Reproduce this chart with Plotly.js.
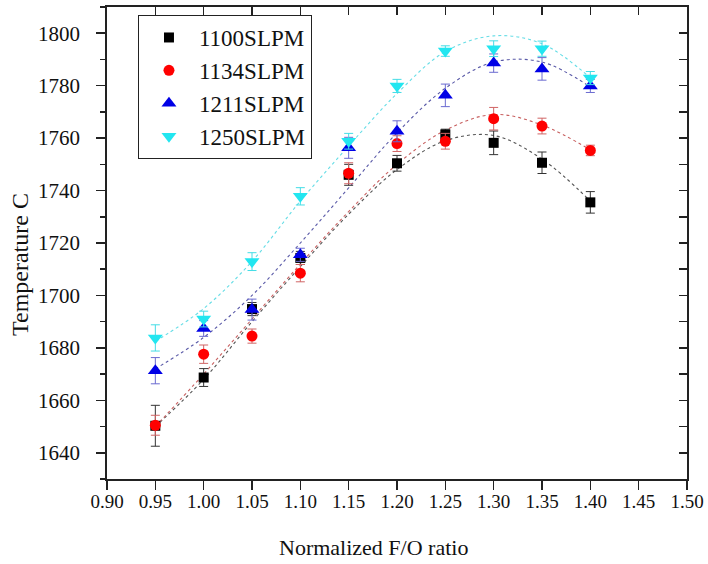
<!DOCTYPE html>
<html>
<head>
<meta charset="utf-8">
<script src="https://cdn.plot.ly/plotly-3.0.1.min.js"></script>
<style>
  html, body { margin: 0; padding: 0; background: #fff; }
  #chart { width: 708px; height: 564px; }
</style>
</head>
<body>
<div id="chart"></div>
<script>
// Normalized fuel/oxidizer ratio
const ratio = [0.95, 1.00, 1.05, 1.10, 1.15, 1.20, 1.25, 1.30, 1.35, 1.40];

// Measured temperature (C) per flow rate
const t1100 = [1650.3, 1668.7, 1694.8, 1714.3, 1746.0, 1750.4, 1761.4, 1758.2, 1750.6, 1735.5];
const t1134 = [1650.5, 1677.6, 1684.5, 1708.5, 1746.6, 1757.9, 1758.8, 1767.4, 1764.6, 1755.3];
const t1211 = [1671.3, 1687.4, 1694.6, 1715.5, 1756.3, 1762.6, 1776.3, 1788.6, 1786.4, 1779.9];
const t1250 = [1683.8, 1691.0, 1712.9, 1737.8, 1758.8, 1779.9, 1793.2, 1794.1, 1794.1, 1782.9];

// Error bar half-widths (C)
const e1100 = [7.8, 3.4, 2.5, 2.5, 4.0, 3.0, 2.0, 4.5, 4.1, 4.1];
const e1134 = [3.8, 3.5, 2.7, 3.3, 4.0, 3.0, 3.0, 4.3, 3.0, 2.0];
const e1211 = [5.0, 3.0, 4.0, 2.5, 4.0, 4.0, 4.3, 3.5, 4.3, 2.5];
const e1250 = [5.0, 3.0, 3.4, 3.3, 3.0, 2.5, 2.0, 3.0, 2.9, 2.5];

// Trend curves (C) at each ratio
const f1100 = [1650, 1668, 1690, 1711, 1731, 1748, 1759, 1761, 1752, 1736];
const f1134 = [1650, 1670, 1691, 1712, 1732, 1750, 1763, 1769, 1765, 1755.5];
const f1211 = [1672, 1684, 1700, 1720, 1741, 1762, 1779, 1789, 1789, 1779.5];
const f1250 = [1682.5, 1695, 1713, 1736, 1757, 1777, 1793, 1799, 1796, 1783];

const seriesNames = ['1100SLPM', '1134SLPM', '1211SLPM', '1250SLPM'];

const serif = '"Liberation Serif", "Times New Roman", Times, serif';

function fit(y, color) {
  return {
    x: ratio, y: y, mode: 'lines', type: 'scatter', showlegend: false,
    hoverinfo: 'skip',
    line: { color: color, width: 1.1, dash: '3px,3px', shape: 'spline', smoothing: 1 }
  };
}

function pts(name, y, err, symbol, size, color, errColor) {
  return {
    x: ratio, y: y, name: name, mode: 'markers', type: 'scatter',
    marker: { symbol: symbol, size: size, color: color, line: { width: 0 } },
    error_y: { type: 'data', array: err, visible: true, color: errColor, thickness: 1, width: 4.5 }
  };
}

const data = [
  fit(f1100, '#555555'),
  fit(f1134, '#c86060'),
  fit(f1211, '#5a5aa8'),
  fit(f1250, '#66dde6'),
  pts(seriesNames[0], t1100, e1100, 'square', 10, '#000000', '#333333'),
  pts(seriesNames[1], t1134, e1134, 'circle', 11, '#ff0000', '#d06464'),
  pts(seriesNames[2], t1211, e1211, 'triangle-up', 13, '#0000e6', '#6a6ad0'),
  pts(seriesNames[3], t1250, e1250, 'triangle-down', 13, '#22e6f0', '#44dde6'),
  // carrier trace for the mirrored top/right frame axes
  { x: [], y: [], xaxis: 'x2', yaxis: 'y2', type: 'scatter', mode: 'markers', showlegend: false }
];

const layout = {
  width: 708, height: 564,
  margin: { l: 107, r: 21, t: 7, b: 85 },
  paper_bgcolor: '#ffffff', plot_bgcolor: '#ffffff',
  font: { family: serif, color: '#111111', size: 18 },
  showlegend: true,
  legend: {
    x: 0.0534, y: 0.983, xanchor: 'left', yanchor: 'top',
    bgcolor: '#ffffff', bordercolor: '#222222', borderwidth: 1,
    font: { family: serif, size: 23, color: '#111111' },
    itemwidth: 50, tracegroupgap: 0
  },
  xaxis: {
    range: [0.9, 1.5], tick0: 0.9, dtick: 0.05, tickformat: '.2f',
    showgrid: false, zeroline: false,
    showline: true, linecolor: '#222222', linewidth: 1.8,
    ticks: 'outside', ticklen: 9, tickwidth: 1.5, tickcolor: '#222222',
    ticklabelstandoff: -5,
    tickfont: { family: serif, size: 19, color: '#111111' }
  },
  yaxis: {
    range: [1630, 1810], tick0: 1640, dtick: 20,
    showgrid: false, zeroline: false,
    showline: true, linecolor: '#222222', linewidth: 1.8,
    ticks: 'outside', ticklen: 9, tickwidth: 1.5, tickcolor: '#222222',
    ticklabelstandoff: 12,
    minor: { dtick: 10, ticks: 'outside', ticklen: 5, tickwidth: 1.5, tickcolor: '#222222', showgrid: false },
    tickfont: { family: serif, size: 21, color: '#111111' }
  },
  xaxis2: {
    overlaying: 'x', side: 'top', anchor: 'y2',
    range: [0.9, 1.5], tick0: 0.9, dtick: 0.05,
    showgrid: false, zeroline: false, showticklabels: false,
    showline: true, linecolor: '#222222', linewidth: 1.8,
    ticks: 'inside', ticklen: 8, tickwidth: 1.5, tickcolor: '#222222'
  },
  yaxis2: {
    overlaying: 'y', side: 'right', anchor: 'x2',
    range: [1630, 1810], tick0: 1640, dtick: 10,
    showgrid: false, zeroline: false, showticklabels: false,
    showline: true, linecolor: '#222222', linewidth: 1.8,
    ticks: 'inside', ticklen: 8, tickwidth: 1.5, tickcolor: '#222222'
  },
  annotations: [
    {
      text: 'Normalized F/O ratio', xref: 'paper', yref: 'paper',
      x: 0.460, y: -0.146, xanchor: 'center', yanchor: 'middle', showarrow: false,
      font: { family: serif, size: 22, color: '#111111' }
    },
    {
      text: 'Temperature C', xref: 'paper', yref: 'paper', textangle: -90,
      x: -0.15, y: 0.4534, xanchor: 'center', yanchor: 'middle', showarrow: false,
      font: { family: serif, size: 24, color: '#111111' }
    }
  ]
};

Plotly.newPlot('chart', data, layout, { displayModeBar: false, staticPlot: true });
</script>
</body>
</html>
